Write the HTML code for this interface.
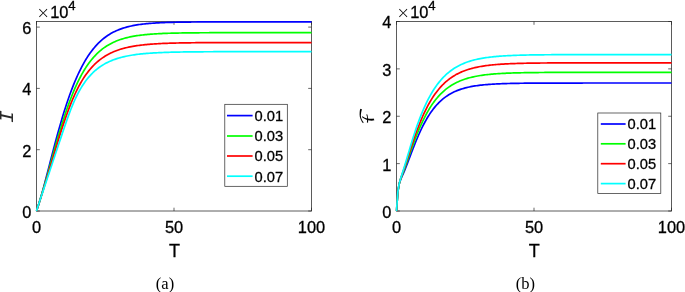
<!DOCTYPE html>
<html><head><meta charset="utf-8"><title>figure</title>
<style>
html,body{margin:0;padding:0;background:#fff;}
svg{display:block}
.t{font-family:"Liberation Sans",sans-serif;font-size:16.4px;fill:#000;stroke:#000;stroke-width:0.3px}
.g{font-family:"Liberation Sans",sans-serif;font-size:14.7px;fill:#000;stroke:#000;stroke-width:0.3px}
.x{font-family:"DejaVu Sans Light","DejaVu Sans",sans-serif;font-weight:200;font-size:16px;fill:#000}
.l{font-family:"Liberation Sans",sans-serif;font-size:18px;fill:#000;stroke:#000;stroke-width:0.3px}
.c{font-family:"Liberation Serif",serif;font-size:16.5px;fill:#000}
.m{font-family:"Liberation Serif",serif;font-style:italic;font-size:20px;fill:#000}
</style></head><body>
<svg width="685" height="292" viewBox="0 0 685 292">
<rect width="685" height="292" fill="#fff"/>
<rect x="36.5" y="21.5" width="275.00" height="189.50" fill="none" stroke="#262626" stroke-width="0.75"/>
<path d="M36.50,211.0 v-3.3 M36.50,21.5 v3.3" stroke="#262626" stroke-width="0.7" fill="none"/>
<path d="M174.00,211.0 v-3.3 M174.00,21.5 v3.3" stroke="#262626" stroke-width="0.7" fill="none"/>
<path d="M311.50,211.0 v-3.3 M311.50,21.5 v3.3" stroke="#262626" stroke-width="0.7" fill="none"/>
<path d="M36.5,211.00 h3.3 M311.5,211.00 h-3.3" stroke="#262626" stroke-width="0.7" fill="none"/>
<path d="M36.5,149.70 h3.3 M311.5,149.70 h-3.3" stroke="#262626" stroke-width="0.7" fill="none"/>
<path d="M36.5,88.40 h3.3 M311.5,88.40 h-3.3" stroke="#262626" stroke-width="0.7" fill="none"/>
<path d="M36.5,27.10 h3.3 M311.5,27.10 h-3.3" stroke="#262626" stroke-width="0.7" fill="none"/>
<clipPath id="cl"><rect x="35.4" y="20.4" width="276.6" height="191.6"/></clipPath><g clip-path="url(#cl)" fill="none" stroke-width="1.7" stroke-linejoin="round">
<path d="M36.50,211.00 L37.88,206.96 L39.25,202.60 L40.62,197.98 L42.00,193.14 L43.38,188.13 L44.75,182.99 L46.12,177.76 L47.50,172.46 L48.88,167.13 L50.25,161.80 L51.62,156.48 L53.00,151.20 L54.38,145.98 L55.75,140.83 L57.12,135.77 L58.50,130.80 L59.88,125.95 L61.25,121.21 L62.62,116.60 L64.00,112.11 L65.38,107.77 L66.75,103.56 L68.12,99.49 L69.50,95.56 L70.88,91.78 L72.25,88.15 L73.62,84.65 L75.00,81.30 L76.38,78.08 L77.75,75.01 L79.12,72.07 L80.50,69.26 L81.88,66.58 L83.25,64.03 L84.62,61.60 L86.00,59.29 L87.38,57.09 L88.75,55.01 L90.12,53.03 L91.50,51.16 L92.88,49.38 L94.25,47.70 L95.62,46.11 L97.00,44.61 L98.38,43.19 L99.75,41.85 L101.12,40.59 L102.50,39.40 L103.88,38.28 L105.25,37.23 L106.62,36.23 L108.00,35.30 L109.38,34.42 L110.75,33.60 L112.12,32.83 L113.50,32.10 L114.88,31.42 L116.25,30.78 L117.62,30.18 L119.00,29.62 L120.38,29.10 L121.75,28.61 L123.12,28.15 L124.50,27.72 L125.88,27.32 L127.25,26.94 L128.62,26.59 L130.00,26.27 L131.38,25.96 L132.75,25.67 L134.12,25.41 L135.50,25.16 L136.88,24.93 L138.25,24.71 L139.62,24.51 L141.00,24.33 L142.38,24.15 L143.75,23.99 L145.12,23.84 L146.50,23.70 L147.88,23.57 L149.25,23.44 L150.62,23.33 L152.00,23.23 L153.38,23.13 L154.75,23.04 L156.12,22.95 L157.50,22.87 L158.88,22.80 L160.25,22.73 L161.62,22.67 L163.00,22.61 L164.38,22.56 L165.75,22.51 L167.12,22.46 L168.50,22.41 L169.88,22.37 L171.25,22.34 L172.62,22.30 L174.00,22.27 L175.38,22.24 L176.75,22.21 L178.12,22.19 L179.50,22.16 L180.88,22.14 L182.25,22.12 L183.62,22.10 L185.00,22.08 L186.38,22.07 L187.75,22.05 L189.12,22.04 L190.50,22.03 L191.88,22.01 L193.25,22.00 L194.62,21.99 L196.00,21.98 L197.38,21.97 L198.75,21.96 L200.12,21.96 L201.50,21.95 L202.88,21.94 L204.25,21.94 L205.62,21.93 L207.00,21.93 L208.38,21.92 L209.75,21.92 L211.12,21.91 L212.50,21.91 L213.88,21.91 L215.25,21.90 L216.62,21.90 L218.00,21.90 L219.38,21.89 L220.75,21.89 L222.12,21.89 L223.50,21.89 L224.88,21.89 L226.25,21.88 L227.62,21.88 L229.00,21.88 L230.38,21.88 L231.75,21.88 L233.12,21.88 L234.50,21.88 L235.88,21.88 L237.25,21.87 L238.62,21.87 L240.00,21.87 L241.38,21.87 L242.75,21.87 L244.12,21.87 L245.50,21.87 L246.88,21.87 L248.25,21.87 L249.62,21.87 L251.00,21.87 L252.38,21.87 L253.75,21.87 L255.12,21.87 L256.50,21.87 L257.88,21.87 L259.25,21.87 L260.62,21.87 L262.00,21.87 L263.38,21.87 L264.75,21.87 L266.12,21.86 L267.50,21.86 L268.88,21.86 L270.25,21.86 L271.62,21.86 L273.00,21.86 L274.38,21.86 L275.75,21.86 L277.12,21.86 L278.50,21.86 L279.88,21.86 L281.25,21.86 L282.62,21.86 L284.00,21.86 L285.38,21.86 L286.75,21.86 L288.12,21.86 L289.50,21.86 L290.88,21.86 L292.25,21.86 L293.62,21.86 L295.00,21.86 L296.38,21.86 L297.75,21.86 L299.12,21.86 L300.50,21.86 L301.88,21.86 L303.25,21.86 L304.62,21.86 L306.00,21.86 L307.38,21.86 L308.75,21.86 L310.12,21.86 L311.50,21.86" stroke="#0000ff"/>
<path d="M36.50,211.00 L37.88,206.85 L39.25,202.54 L40.62,198.10 L42.00,193.53 L43.38,188.86 L44.75,184.10 L46.12,179.27 L47.50,174.39 L48.88,169.47 L50.25,164.54 L51.62,159.61 L53.00,154.69 L54.38,149.81 L55.75,144.98 L57.12,140.21 L58.50,135.52 L59.88,130.91 L61.25,126.41 L62.62,122.01 L64.00,117.72 L65.38,113.56 L66.75,109.53 L68.12,105.62 L69.50,101.86 L70.88,98.23 L72.25,94.75 L73.62,91.40 L75.00,88.20 L76.38,85.13 L77.75,82.20 L79.12,79.41 L80.50,76.74 L81.88,74.21 L83.25,71.80 L84.62,69.51 L86.00,67.34 L87.38,65.29 L88.75,63.34 L90.12,61.50 L91.50,59.76 L92.88,58.11 L94.25,56.56 L95.62,55.09 L97.00,53.71 L98.38,52.41 L99.75,51.18 L101.12,50.03 L102.50,48.94 L103.88,47.92 L105.25,46.95 L106.62,46.05 L108.00,45.20 L109.38,44.40 L110.75,43.65 L112.12,42.95 L113.50,42.29 L114.88,41.67 L116.25,41.09 L117.62,40.54 L119.00,40.03 L120.38,39.56 L121.75,39.11 L123.12,38.69 L124.50,38.29 L125.88,37.92 L127.25,37.58 L128.62,37.26 L130.00,36.95 L131.38,36.67 L132.75,36.41 L134.12,36.16 L135.50,35.93 L136.88,35.71 L138.25,35.51 L139.62,35.32 L141.00,35.14 L142.38,34.97 L143.75,34.82 L145.12,34.67 L146.50,34.54 L147.88,34.41 L149.25,34.29 L150.62,34.18 L152.00,34.08 L153.38,33.99 L154.75,33.90 L156.12,33.81 L157.50,33.73 L158.88,33.66 L160.25,33.59 L161.62,33.53 L163.00,33.47 L164.38,33.41 L165.75,33.36 L167.12,33.31 L168.50,33.27 L169.88,33.23 L171.25,33.19 L172.62,33.15 L174.00,33.12 L175.38,33.08 L176.75,33.05 L178.12,33.03 L179.50,33.00 L180.88,32.98 L182.25,32.95 L183.62,32.93 L185.00,32.91 L186.38,32.90 L187.75,32.88 L189.12,32.86 L190.50,32.85 L191.88,32.83 L193.25,32.82 L194.62,32.81 L196.00,32.80 L197.38,32.79 L198.75,32.78 L200.12,32.77 L201.50,32.76 L202.88,32.75 L204.25,32.75 L205.62,32.74 L207.00,32.73 L208.38,32.73 L209.75,32.72 L211.12,32.72 L212.50,32.71 L213.88,32.71 L215.25,32.70 L216.62,32.70 L218.00,32.70 L219.38,32.69 L220.75,32.69 L222.12,32.69 L223.50,32.68 L224.88,32.68 L226.25,32.68 L227.62,32.68 L229.00,32.67 L230.38,32.67 L231.75,32.67 L233.12,32.67 L234.50,32.67 L235.88,32.67 L237.25,32.67 L238.62,32.66 L240.00,32.66 L241.38,32.66 L242.75,32.66 L244.12,32.66 L245.50,32.66 L246.88,32.66 L248.25,32.66 L249.62,32.66 L251.00,32.66 L252.38,32.66 L253.75,32.66 L255.12,32.65 L256.50,32.65 L257.88,32.65 L259.25,32.65 L260.62,32.65 L262.00,32.65 L263.38,32.65 L264.75,32.65 L266.12,32.65 L267.50,32.65 L268.88,32.65 L270.25,32.65 L271.62,32.65 L273.00,32.65 L274.38,32.65 L275.75,32.65 L277.12,32.65 L278.50,32.65 L279.88,32.65 L281.25,32.65 L282.62,32.65 L284.00,32.65 L285.38,32.65 L286.75,32.65 L288.12,32.65 L289.50,32.65 L290.88,32.65 L292.25,32.65 L293.62,32.65 L295.00,32.65 L296.38,32.65 L297.75,32.65 L299.12,32.65 L300.50,32.65 L301.88,32.65 L303.25,32.65 L304.62,32.65 L306.00,32.65 L307.38,32.65 L308.75,32.65 L310.12,32.65 L311.50,32.65" stroke="#00ff00"/>
<path d="M36.50,211.00 L37.88,206.82 L39.25,202.57 L40.62,198.26 L42.00,193.90 L43.38,189.49 L44.75,185.02 L46.12,180.52 L47.50,175.98 L48.88,171.41 L50.25,166.83 L51.62,162.23 L53.00,157.63 L54.38,153.05 L55.75,148.49 L57.12,143.97 L58.50,139.50 L59.88,135.09 L61.25,130.76 L62.62,126.53 L64.00,122.39 L65.38,118.37 L66.75,114.48 L68.12,110.71 L69.50,107.09 L70.88,103.60 L72.25,100.26 L73.62,97.07 L75.00,94.02 L76.38,91.12 L77.75,88.36 L79.12,85.73 L80.50,83.25 L81.88,80.89 L83.25,78.66 L84.62,76.55 L86.00,74.55 L87.38,72.67 L88.75,70.89 L90.12,69.21 L91.50,67.63 L92.88,66.14 L94.25,64.73 L95.62,63.40 L97.00,62.15 L98.38,60.98 L99.75,59.87 L101.12,58.83 L102.50,57.84 L103.88,56.92 L105.25,56.05 L106.62,55.23 L108.00,54.46 L109.38,53.74 L110.75,53.06 L112.12,52.42 L113.50,51.82 L114.88,51.25 L116.25,50.72 L117.62,50.22 L119.00,49.75 L120.38,49.31 L121.75,48.89 L123.12,48.50 L124.50,48.13 L125.88,47.79 L127.25,47.47 L128.62,47.16 L130.00,46.88 L131.38,46.61 L132.75,46.36 L134.12,46.12 L135.50,45.90 L136.88,45.69 L138.25,45.49 L139.62,45.31 L141.00,45.14 L142.38,44.98 L143.75,44.82 L145.12,44.68 L146.50,44.55 L147.88,44.42 L149.25,44.30 L150.62,44.19 L152.00,44.09 L153.38,43.99 L154.75,43.90 L156.12,43.82 L157.50,43.74 L158.88,43.66 L160.25,43.59 L161.62,43.52 L163.00,43.46 L164.38,43.40 L165.75,43.35 L167.12,43.30 L168.50,43.25 L169.88,43.20 L171.25,43.16 L172.62,43.12 L174.00,43.08 L175.38,43.05 L176.75,43.02 L178.12,42.99 L179.50,42.96 L180.88,42.93 L182.25,42.90 L183.62,42.88 L185.00,42.86 L186.38,42.84 L187.75,42.82 L189.12,42.80 L190.50,42.78 L191.88,42.77 L193.25,42.75 L194.62,42.74 L196.00,42.72 L197.38,42.71 L198.75,42.70 L200.12,42.69 L201.50,42.68 L202.88,42.67 L204.25,42.66 L205.62,42.65 L207.00,42.64 L208.38,42.64 L209.75,42.63 L211.12,42.62 L212.50,42.62 L213.88,42.61 L215.25,42.61 L216.62,42.60 L218.00,42.60 L219.38,42.59 L220.75,42.59 L222.12,42.59 L223.50,42.58 L224.88,42.58 L226.25,42.58 L227.62,42.57 L229.00,42.57 L230.38,42.57 L231.75,42.56 L233.12,42.56 L234.50,42.56 L235.88,42.56 L237.25,42.56 L238.62,42.55 L240.00,42.55 L241.38,42.55 L242.75,42.55 L244.12,42.55 L245.50,42.55 L246.88,42.55 L248.25,42.55 L249.62,42.54 L251.00,42.54 L252.38,42.54 L253.75,42.54 L255.12,42.54 L256.50,42.54 L257.88,42.54 L259.25,42.54 L260.62,42.54 L262.00,42.54 L263.38,42.54 L264.75,42.54 L266.12,42.54 L267.50,42.54 L268.88,42.54 L270.25,42.53 L271.62,42.53 L273.00,42.53 L274.38,42.53 L275.75,42.53 L277.12,42.53 L278.50,42.53 L279.88,42.53 L281.25,42.53 L282.62,42.53 L284.00,42.53 L285.38,42.53 L286.75,42.53 L288.12,42.53 L289.50,42.53 L290.88,42.53 L292.25,42.53 L293.62,42.53 L295.00,42.53 L296.38,42.53 L297.75,42.53 L299.12,42.53 L300.50,42.53 L301.88,42.53 L303.25,42.53 L304.62,42.53 L306.00,42.53 L307.38,42.53 L308.75,42.53 L310.12,42.53 L311.50,42.53" stroke="#ff0000"/>
<path d="M36.50,211.00 L37.88,206.58 L39.25,202.46 L40.62,198.34 L42.00,194.22 L43.38,190.11 L44.75,185.99 L46.12,181.87 L47.50,177.75 L48.88,173.64 L50.25,169.52 L51.62,165.40 L53.00,161.28 L54.38,157.17 L55.75,153.05 L57.12,148.94 L58.50,144.83 L59.88,140.72 L61.25,136.63 L62.62,132.55 L64.00,128.49 L65.38,124.47 L66.75,120.52 L68.12,116.65 L69.50,112.90 L70.88,109.30 L72.25,105.85 L73.62,102.59 L75.00,99.50 L76.38,96.59 L77.75,93.85 L79.12,91.27 L80.50,88.85 L81.88,86.58 L83.25,84.44 L84.62,82.44 L86.00,80.56 L87.38,78.79 L88.75,77.13 L90.12,75.57 L91.50,74.11 L92.88,72.73 L94.25,71.45 L95.62,70.23 L97.00,69.10 L98.38,68.03 L99.75,67.03 L101.12,66.09 L102.50,65.21 L103.88,64.38 L105.25,63.60 L106.62,62.87 L108.00,62.18 L109.38,61.54 L110.75,60.93 L112.12,60.36 L113.50,59.83 L114.88,59.33 L116.25,58.86 L117.62,58.42 L119.00,58.00 L120.38,57.61 L121.75,57.25 L123.12,56.91 L124.50,56.59 L125.88,56.28 L127.25,56.00 L128.62,55.73 L130.00,55.48 L131.38,55.25 L132.75,55.03 L134.12,54.82 L135.50,54.63 L136.88,54.44 L138.25,54.27 L139.62,54.11 L141.00,53.96 L142.38,53.82 L143.75,53.69 L145.12,53.56 L146.50,53.44 L147.88,53.33 L149.25,53.23 L150.62,53.13 L152.00,53.04 L153.38,52.96 L154.75,52.88 L156.12,52.80 L157.50,52.73 L158.88,52.66 L160.25,52.60 L161.62,52.54 L163.00,52.49 L164.38,52.44 L165.75,52.39 L167.12,52.34 L168.50,52.30 L169.88,52.26 L171.25,52.22 L172.62,52.19 L174.00,52.15 L175.38,52.12 L176.75,52.09 L178.12,52.06 L179.50,52.04 L180.88,52.01 L182.25,51.99 L183.62,51.97 L185.00,51.95 L186.38,51.93 L187.75,51.91 L189.12,51.90 L190.50,51.88 L191.88,51.87 L193.25,51.85 L194.62,51.84 L196.00,51.83 L197.38,51.82 L198.75,51.81 L200.12,51.80 L201.50,51.79 L202.88,51.78 L204.25,51.77 L205.62,51.76 L207.00,51.75 L208.38,51.75 L209.75,51.74 L211.12,51.73 L212.50,51.73 L213.88,51.72 L215.25,51.72 L216.62,51.71 L218.00,51.71 L219.38,51.71 L220.75,51.70 L222.12,51.70 L223.50,51.69 L224.88,51.69 L226.25,51.69 L227.62,51.69 L229.00,51.68 L230.38,51.68 L231.75,51.68 L233.12,51.68 L234.50,51.67 L235.88,51.67 L237.25,51.67 L238.62,51.67 L240.00,51.67 L241.38,51.66 L242.75,51.66 L244.12,51.66 L245.50,51.66 L246.88,51.66 L248.25,51.66 L249.62,51.66 L251.00,51.66 L252.38,51.66 L253.75,51.65 L255.12,51.65 L256.50,51.65 L257.88,51.65 L259.25,51.65 L260.62,51.65 L262.00,51.65 L263.38,51.65 L264.75,51.65 L266.12,51.65 L267.50,51.65 L268.88,51.65 L270.25,51.65 L271.62,51.65 L273.00,51.65 L274.38,51.65 L275.75,51.65 L277.12,51.65 L278.50,51.65 L279.88,51.65 L281.25,51.65 L282.62,51.65 L284.00,51.65 L285.38,51.64 L286.75,51.64 L288.12,51.64 L289.50,51.64 L290.88,51.64 L292.25,51.64 L293.62,51.64 L295.00,51.64 L296.38,51.64 L297.75,51.64 L299.12,51.64 L300.50,51.64 L301.88,51.64 L303.25,51.64 L304.62,51.64 L306.00,51.64 L307.38,51.64 L308.75,51.64 L310.12,51.64 L311.50,51.64" stroke="#00ffff"/>
</g>
<text x="31.3" y="217.9" text-anchor="end" class="t">0</text>
<text x="31.3" y="156.6" text-anchor="end" class="t">2</text>
<text x="31.3" y="95.3" text-anchor="end" class="t">4</text>
<text x="31.3" y="34.0" text-anchor="end" class="t">6</text>
<text x="36.5" y="233.3" text-anchor="middle" class="t">0</text>
<text x="174.0" y="233.3" text-anchor="middle" class="t">50</text>
<text x="311.5" y="233.3" text-anchor="middle" class="t">100</text>
<text x="174.6" y="257.2" text-anchor="middle" class="l">T</text>
<text x="36.6" y="18.4" class="x">×</text><text x="50.2" y="18.3" class="t">10</text><text x="68.2" y="9.9" class="t" style="font-size:13.2px">4</text>
<text transform="translate(13.1,116.3) rotate(-90) scale(1.15,1)" text-anchor="middle" class="m" style="font-family:'DejaVu Sans Mono',monospace;font-style:oblique;font-size:18.3px;fill:#2a2a2a">I</text>
<rect x="224.8" y="104.3" width="62.5" height="82" fill="#fff" stroke="#262626" stroke-width="0.7"/>
<line x1="227.0" y1="115.6" x2="252.6" y2="115.6" stroke="#0000ff" stroke-width="1.7"/>
<text x="254.6" y="120.9" class="g">0.01</text>
<line x1="227.0" y1="136.0" x2="252.6" y2="136.0" stroke="#00ff00" stroke-width="1.7"/>
<text x="254.6" y="141.3" class="g">0.03</text>
<line x1="227.0" y1="156.0" x2="252.6" y2="156.0" stroke="#ff0000" stroke-width="1.7"/>
<text x="254.6" y="161.3" class="g">0.05</text>
<line x1="227.0" y1="176.2" x2="252.6" y2="176.2" stroke="#00ffff" stroke-width="1.7"/>
<text x="254.6" y="181.5" class="g">0.07</text>
<text x="165" y="288.5" text-anchor="middle" class="c">(a)</text>
<rect x="396.5" y="21.5" width="275.00" height="189.50" fill="none" stroke="#262626" stroke-width="0.75"/>
<path d="M396.50,211.0 v-3.3 M396.50,21.5 v3.3" stroke="#262626" stroke-width="0.7" fill="none"/>
<path d="M534.00,211.0 v-3.3 M534.00,21.5 v3.3" stroke="#262626" stroke-width="0.7" fill="none"/>
<path d="M671.50,211.0 v-3.3 M671.50,21.5 v3.3" stroke="#262626" stroke-width="0.7" fill="none"/>
<path d="M396.5,211.00 h3.3 M671.5,211.00 h-3.3" stroke="#262626" stroke-width="0.7" fill="none"/>
<path d="M396.5,163.62 h3.3 M671.5,163.62 h-3.3" stroke="#262626" stroke-width="0.7" fill="none"/>
<path d="M396.5,116.25 h3.3 M671.5,116.25 h-3.3" stroke="#262626" stroke-width="0.7" fill="none"/>
<path d="M396.5,68.88 h3.3 M671.5,68.88 h-3.3" stroke="#262626" stroke-width="0.7" fill="none"/>
<path d="M396.5,21.50 h3.3 M671.5,21.50 h-3.3" stroke="#262626" stroke-width="0.7" fill="none"/>
<clipPath id="cr"><rect x="395.4" y="20.4" width="276.6" height="191.6"/></clipPath><g clip-path="url(#cr)" fill="none" stroke-width="1.7" stroke-linejoin="round">
<path d="M396.50,211.00 L397.88,191.39 L399.25,183.72 L400.62,179.63 L402.00,176.44 L403.38,173.32 L404.75,170.06 L406.12,166.65 L407.50,163.12 L408.88,159.52 L410.25,155.89 L411.62,152.27 L413.00,148.70 L414.38,145.19 L415.75,141.78 L417.12,138.47 L418.50,135.27 L419.88,132.20 L421.25,129.25 L422.62,126.44 L424.00,123.76 L425.38,121.22 L426.75,118.80 L428.12,116.52 L429.50,114.36 L430.88,112.32 L432.25,110.40 L433.62,108.59 L435.00,106.89 L436.38,105.29 L437.75,103.80 L439.12,102.39 L440.50,101.08 L441.88,99.85 L443.25,98.70 L444.62,97.62 L446.00,96.62 L447.38,95.68 L448.75,94.80 L450.12,93.98 L451.50,93.22 L452.88,92.51 L454.25,91.85 L455.62,91.23 L457.00,90.65 L458.38,90.12 L459.75,89.62 L461.12,89.15 L462.50,88.72 L463.88,88.32 L465.25,87.94 L466.62,87.60 L468.00,87.27 L469.38,86.97 L470.75,86.69 L472.12,86.43 L473.50,86.19 L474.88,85.96 L476.25,85.75 L477.62,85.56 L479.00,85.38 L480.38,85.21 L481.75,85.05 L483.12,84.91 L484.50,84.77 L485.88,84.65 L487.25,84.53 L488.62,84.42 L490.00,84.32 L491.38,84.23 L492.75,84.14 L494.12,84.06 L495.50,83.99 L496.88,83.92 L498.25,83.86 L499.62,83.80 L501.00,83.74 L502.38,83.69 L503.75,83.64 L505.12,83.60 L506.50,83.55 L507.88,83.52 L509.25,83.48 L510.62,83.45 L512.00,83.42 L513.38,83.39 L514.75,83.36 L516.12,83.34 L517.50,83.31 L518.88,83.29 L520.25,83.27 L521.62,83.25 L523.00,83.24 L524.38,83.22 L525.75,83.21 L527.12,83.19 L528.50,83.18 L529.88,83.17 L531.25,83.16 L532.62,83.15 L534.00,83.14 L535.38,83.13 L536.75,83.12 L538.12,83.11 L539.50,83.11 L540.88,83.10 L542.25,83.09 L543.62,83.09 L545.00,83.08 L546.38,83.08 L547.75,83.07 L549.12,83.07 L550.50,83.07 L551.88,83.06 L553.25,83.06 L554.62,83.06 L556.00,83.05 L557.38,83.05 L558.75,83.05 L560.12,83.05 L561.50,83.04 L562.88,83.04 L564.25,83.04 L565.62,83.04 L567.00,83.04 L568.38,83.04 L569.75,83.03 L571.12,83.03 L572.50,83.03 L573.88,83.03 L575.25,83.03 L576.62,83.03 L578.00,83.03 L579.38,83.03 L580.75,83.03 L582.12,83.03 L583.50,83.02 L584.88,83.02 L586.25,83.02 L587.62,83.02 L589.00,83.02 L590.38,83.02 L591.75,83.02 L593.12,83.02 L594.50,83.02 L595.88,83.02 L597.25,83.02 L598.62,83.02 L600.00,83.02 L601.38,83.02 L602.75,83.02 L604.12,83.02 L605.50,83.02 L606.88,83.02 L608.25,83.02 L609.62,83.02 L611.00,83.02 L612.38,83.02 L613.75,83.02 L615.12,83.02 L616.50,83.02 L617.88,83.02 L619.25,83.02 L620.62,83.02 L622.00,83.02 L623.38,83.02 L624.75,83.02 L626.12,83.02 L627.50,83.02 L628.88,83.02 L630.25,83.02 L631.62,83.02 L633.00,83.02 L634.38,83.02 L635.75,83.02 L637.12,83.02 L638.50,83.02 L639.88,83.02 L641.25,83.02 L642.62,83.02 L644.00,83.02 L645.38,83.02 L646.75,83.02 L648.12,83.02 L649.50,83.02 L650.88,83.02 L652.25,83.02 L653.62,83.02 L655.00,83.02 L656.38,83.02 L657.75,83.02 L659.12,83.02 L660.50,83.02 L661.88,83.02 L663.25,83.02 L664.62,83.02 L666.00,83.02 L667.38,83.02 L668.75,83.02 L670.12,83.02 L671.50,83.02" stroke="#0000ff"/>
<path d="M396.50,211.00 L397.88,191.68 L399.25,183.65 L400.62,179.10 L402.00,175.44 L403.38,171.86 L404.75,168.17 L406.12,164.36 L407.50,160.45 L408.88,156.51 L410.25,152.57 L411.62,148.68 L413.00,144.85 L414.38,141.12 L415.75,137.50 L417.12,134.00 L418.50,130.63 L419.88,127.39 L421.25,124.29 L422.62,121.33 L424.00,118.51 L425.38,115.82 L426.75,113.27 L428.12,110.85 L429.50,108.55 L430.88,106.38 L432.25,104.32 L433.62,102.38 L435.00,100.54 L436.38,98.81 L437.75,97.18 L439.12,95.64 L440.50,94.19 L441.88,92.83 L443.25,91.54 L444.62,90.34 L446.00,89.20 L447.38,88.14 L448.75,87.14 L450.12,86.20 L451.50,85.31 L452.88,84.49 L454.25,83.71 L455.62,82.98 L457.00,82.30 L458.38,81.66 L459.75,81.06 L461.12,80.50 L462.50,79.97 L463.88,79.48 L465.25,79.02 L466.62,78.59 L468.00,78.18 L469.38,77.80 L470.75,77.45 L472.12,77.12 L473.50,76.81 L474.88,76.52 L476.25,76.24 L477.62,75.99 L479.00,75.75 L480.38,75.53 L481.75,75.32 L483.12,75.13 L484.50,74.94 L485.88,74.77 L487.25,74.62 L488.62,74.47 L490.00,74.33 L491.38,74.20 L492.75,74.08 L494.12,73.96 L495.50,73.86 L496.88,73.76 L498.25,73.66 L499.62,73.58 L501.00,73.50 L502.38,73.42 L503.75,73.35 L505.12,73.28 L506.50,73.22 L507.88,73.16 L509.25,73.11 L510.62,73.06 L512.00,73.01 L513.38,72.97 L514.75,72.93 L516.12,72.89 L517.50,72.85 L518.88,72.82 L520.25,72.79 L521.62,72.76 L523.00,72.73 L524.38,72.70 L525.75,72.68 L527.12,72.66 L528.50,72.64 L529.88,72.62 L531.25,72.60 L532.62,72.58 L534.00,72.57 L535.38,72.55 L536.75,72.54 L538.12,72.53 L539.50,72.51 L540.88,72.50 L542.25,72.49 L543.62,72.48 L545.00,72.47 L546.38,72.46 L547.75,72.46 L549.12,72.45 L550.50,72.44 L551.88,72.43 L553.25,72.43 L554.62,72.42 L556.00,72.42 L557.38,72.41 L558.75,72.41 L560.12,72.40 L561.50,72.40 L562.88,72.39 L564.25,72.39 L565.62,72.39 L567.00,72.38 L568.38,72.38 L569.75,72.38 L571.12,72.38 L572.50,72.37 L573.88,72.37 L575.25,72.37 L576.62,72.37 L578.00,72.37 L579.38,72.36 L580.75,72.36 L582.12,72.36 L583.50,72.36 L584.88,72.36 L586.25,72.36 L587.62,72.36 L589.00,72.36 L590.38,72.35 L591.75,72.35 L593.12,72.35 L594.50,72.35 L595.88,72.35 L597.25,72.35 L598.62,72.35 L600.00,72.35 L601.38,72.35 L602.75,72.35 L604.12,72.35 L605.50,72.35 L606.88,72.35 L608.25,72.35 L609.62,72.35 L611.00,72.35 L612.38,72.35 L613.75,72.34 L615.12,72.34 L616.50,72.34 L617.88,72.34 L619.25,72.34 L620.62,72.34 L622.00,72.34 L623.38,72.34 L624.75,72.34 L626.12,72.34 L627.50,72.34 L628.88,72.34 L630.25,72.34 L631.62,72.34 L633.00,72.34 L634.38,72.34 L635.75,72.34 L637.12,72.34 L638.50,72.34 L639.88,72.34 L641.25,72.34 L642.62,72.34 L644.00,72.34 L645.38,72.34 L646.75,72.34 L648.12,72.34 L649.50,72.34 L650.88,72.34 L652.25,72.34 L653.62,72.34 L655.00,72.34 L656.38,72.34 L657.75,72.34 L659.12,72.34 L660.50,72.34 L661.88,72.34 L663.25,72.34 L664.62,72.34 L666.00,72.34 L667.38,72.34 L668.75,72.34 L670.12,72.34 L671.50,72.34" stroke="#00ff00"/>
<path d="M396.50,211.00 L397.88,191.78 L399.25,183.55 L400.62,178.72 L402.00,174.76 L403.38,170.87 L404.75,166.87 L406.12,162.73 L407.50,158.51 L408.88,154.26 L410.25,150.02 L411.62,145.83 L413.00,141.72 L414.38,137.71 L415.75,133.83 L417.12,130.07 L418.50,126.45 L419.88,122.98 L421.25,119.66 L422.62,116.48 L424.00,113.44 L425.38,110.56 L426.75,107.81 L428.12,105.20 L429.50,102.73 L430.88,100.38 L432.25,98.16 L433.62,96.06 L435.00,94.07 L436.38,92.19 L437.75,90.42 L439.12,88.75 L440.50,87.17 L441.88,85.68 L443.25,84.28 L444.62,82.96 L446.00,81.72 L447.38,80.55 L448.75,79.45 L450.12,78.42 L451.50,77.45 L452.88,76.54 L454.25,75.68 L455.62,74.87 L457.00,74.12 L458.38,73.41 L459.75,72.74 L461.12,72.12 L462.50,71.53 L463.88,70.98 L465.25,70.46 L466.62,69.98 L468.00,69.53 L469.38,69.10 L470.75,68.70 L472.12,68.33 L473.50,67.98 L474.88,67.65 L476.25,67.34 L477.62,67.05 L479.00,66.78 L480.38,66.53 L481.75,66.29 L483.12,66.07 L484.50,65.86 L485.88,65.67 L487.25,65.49 L488.62,65.32 L490.00,65.16 L491.38,65.01 L492.75,64.87 L494.12,64.74 L495.50,64.61 L496.88,64.50 L498.25,64.39 L499.62,64.29 L501.00,64.20 L502.38,64.11 L503.75,64.03 L505.12,63.95 L506.50,63.88 L507.88,63.81 L509.25,63.75 L510.62,63.69 L512.00,63.63 L513.38,63.58 L514.75,63.53 L516.12,63.49 L517.50,63.44 L518.88,63.40 L520.25,63.37 L521.62,63.33 L523.00,63.30 L524.38,63.27 L525.75,63.24 L527.12,63.21 L528.50,63.19 L529.88,63.17 L531.25,63.14 L532.62,63.12 L534.00,63.10 L535.38,63.09 L536.75,63.07 L538.12,63.05 L539.50,63.04 L540.88,63.02 L542.25,63.01 L543.62,63.00 L545.00,62.99 L546.38,62.98 L547.75,62.97 L549.12,62.96 L550.50,62.95 L551.88,62.94 L553.25,62.93 L554.62,62.93 L556.00,62.92 L557.38,62.92 L558.75,62.91 L560.12,62.90 L561.50,62.90 L562.88,62.89 L564.25,62.89 L565.62,62.89 L567.00,62.88 L568.38,62.88 L569.75,62.87 L571.12,62.87 L572.50,62.87 L573.88,62.87 L575.25,62.86 L576.62,62.86 L578.00,62.86 L579.38,62.86 L580.75,62.85 L582.12,62.85 L583.50,62.85 L584.88,62.85 L586.25,62.85 L587.62,62.85 L589.00,62.84 L590.38,62.84 L591.75,62.84 L593.12,62.84 L594.50,62.84 L595.88,62.84 L597.25,62.84 L598.62,62.84 L600.00,62.84 L601.38,62.84 L602.75,62.84 L604.12,62.83 L605.50,62.83 L606.88,62.83 L608.25,62.83 L609.62,62.83 L611.00,62.83 L612.38,62.83 L613.75,62.83 L615.12,62.83 L616.50,62.83 L617.88,62.83 L619.25,62.83 L620.62,62.83 L622.00,62.83 L623.38,62.83 L624.75,62.83 L626.12,62.83 L627.50,62.83 L628.88,62.83 L630.25,62.83 L631.62,62.83 L633.00,62.83 L634.38,62.83 L635.75,62.83 L637.12,62.83 L638.50,62.83 L639.88,62.83 L641.25,62.83 L642.62,62.83 L644.00,62.83 L645.38,62.83 L646.75,62.83 L648.12,62.83 L649.50,62.83 L650.88,62.83 L652.25,62.83 L653.62,62.83 L655.00,62.83 L656.38,62.83 L657.75,62.83 L659.12,62.83 L660.50,62.83 L661.88,62.83 L663.25,62.83 L664.62,62.83 L666.00,62.83 L667.38,62.83 L668.75,62.83 L670.12,62.83 L671.50,62.83" stroke="#ff0000"/>
<path d="M396.50,211.00 L397.88,191.56 L399.25,183.51 L400.62,178.60 L402.00,174.33 L403.38,170.03 L404.75,165.57 L406.12,160.98 L407.50,156.32 L408.88,151.66 L410.25,147.05 L411.62,142.51 L413.00,138.09 L414.38,133.79 L415.75,129.64 L417.12,125.65 L418.50,121.81 L419.88,118.14 L421.25,114.62 L422.62,111.27 L424.00,108.07 L425.38,105.03 L426.75,102.15 L428.12,99.40 L429.50,96.80 L430.88,94.34 L432.25,92.00 L433.62,89.80 L435.00,87.71 L436.38,85.73 L437.75,83.87 L439.12,82.11 L440.50,80.45 L441.88,78.89 L443.25,77.41 L444.62,76.02 L446.00,74.71 L447.38,73.48 L448.75,72.32 L450.12,71.23 L451.50,70.20 L452.88,69.24 L454.25,68.33 L455.62,67.48 L457.00,66.68 L458.38,65.93 L459.75,65.22 L461.12,64.56 L462.50,63.93 L463.88,63.35 L465.25,62.80 L466.62,62.28 L468.00,61.80 L469.38,61.35 L470.75,60.92 L472.12,60.52 L473.50,60.15 L474.88,59.80 L476.25,59.47 L477.62,59.16 L479.00,58.87 L480.38,58.60 L481.75,58.35 L483.12,58.11 L484.50,57.89 L485.88,57.68 L487.25,57.48 L488.62,57.30 L490.00,57.13 L491.38,56.97 L492.75,56.81 L494.12,56.67 L495.50,56.54 L496.88,56.42 L498.25,56.30 L499.62,56.19 L501.00,56.09 L502.38,55.99 L503.75,55.91 L505.12,55.82 L506.50,55.74 L507.88,55.67 L509.25,55.60 L510.62,55.54 L512.00,55.48 L513.38,55.42 L514.75,55.37 L516.12,55.32 L517.50,55.27 L518.88,55.23 L520.25,55.19 L521.62,55.15 L523.00,55.11 L524.38,55.08 L525.75,55.05 L527.12,55.02 L528.50,54.99 L529.88,54.97 L531.25,54.94 L532.62,54.92 L534.00,54.90 L535.38,54.88 L536.75,54.86 L538.12,54.84 L539.50,54.83 L540.88,54.81 L542.25,54.80 L543.62,54.79 L545.00,54.77 L546.38,54.76 L547.75,54.75 L549.12,54.74 L550.50,54.73 L551.88,54.72 L553.25,54.71 L554.62,54.71 L556.00,54.70 L557.38,54.69 L558.75,54.69 L560.12,54.68 L561.50,54.67 L562.88,54.67 L564.25,54.66 L565.62,54.66 L567.00,54.65 L568.38,54.65 L569.75,54.65 L571.12,54.64 L572.50,54.64 L573.88,54.64 L575.25,54.63 L576.62,54.63 L578.00,54.63 L579.38,54.63 L580.75,54.62 L582.12,54.62 L583.50,54.62 L584.88,54.62 L586.25,54.62 L587.62,54.61 L589.00,54.61 L590.38,54.61 L591.75,54.61 L593.12,54.61 L594.50,54.61 L595.88,54.61 L597.25,54.61 L598.62,54.61 L600.00,54.60 L601.38,54.60 L602.75,54.60 L604.12,54.60 L605.50,54.60 L606.88,54.60 L608.25,54.60 L609.62,54.60 L611.00,54.60 L612.38,54.60 L613.75,54.60 L615.12,54.60 L616.50,54.60 L617.88,54.60 L619.25,54.60 L620.62,54.60 L622.00,54.60 L623.38,54.60 L624.75,54.60 L626.12,54.59 L627.50,54.59 L628.88,54.59 L630.25,54.59 L631.62,54.59 L633.00,54.59 L634.38,54.59 L635.75,54.59 L637.12,54.59 L638.50,54.59 L639.88,54.59 L641.25,54.59 L642.62,54.59 L644.00,54.59 L645.38,54.59 L646.75,54.59 L648.12,54.59 L649.50,54.59 L650.88,54.59 L652.25,54.59 L653.62,54.59 L655.00,54.59 L656.38,54.59 L657.75,54.59 L659.12,54.59 L660.50,54.59 L661.88,54.59 L663.25,54.59 L664.62,54.59 L666.00,54.59 L667.38,54.59 L668.75,54.59 L670.12,54.59 L671.50,54.59" stroke="#00ffff"/>
</g>
<text x="391.4" y="217.9" text-anchor="end" class="t">0</text>
<text x="391.4" y="170.5" text-anchor="end" class="t">1</text>
<text x="391.4" y="123.2" text-anchor="end" class="t">2</text>
<text x="391.4" y="75.8" text-anchor="end" class="t">3</text>
<text x="391.4" y="28.4" text-anchor="end" class="t">4</text>
<text x="396.5" y="233.3" text-anchor="middle" class="t">0</text>
<text x="534.0" y="233.3" text-anchor="middle" class="t">50</text>
<text x="671.5" y="233.3" text-anchor="middle" class="t">100</text>
<text x="534.3" y="257.2" text-anchor="middle" class="l">T</text>
<text x="396.6" y="18.4" class="x">×</text><text x="410.2" y="18.3" class="t">10</text><text x="428.2" y="9.9" class="t" style="font-size:13.2px">4</text>
<text transform="translate(373.5,116) rotate(-90)" text-anchor="middle" class="m" style="font-family:'DejaVu Math TeX Gyre','DejaVu Sans',serif;font-style:normal;font-size:19px">ℱ</text>
<rect x="597.8" y="113" width="63" height="80.5" fill="#fff" stroke="#262626" stroke-width="0.7"/>
<line x1="600.8" y1="124" x2="625.6" y2="124" stroke="#0000ff" stroke-width="1.7"/>
<text x="627.5" y="129.3" class="g">0.01</text>
<line x1="600.8" y1="143.8" x2="625.6" y2="143.8" stroke="#00ff00" stroke-width="1.7"/>
<text x="627.5" y="149.1" class="g">0.03</text>
<line x1="600.8" y1="163.7" x2="625.6" y2="163.7" stroke="#ff0000" stroke-width="1.7"/>
<text x="627.5" y="169.0" class="g">0.05</text>
<line x1="600.8" y1="183.6" x2="625.6" y2="183.6" stroke="#00ffff" stroke-width="1.7"/>
<text x="627.5" y="188.9" class="g">0.07</text>
<text x="525.4" y="288.5" text-anchor="middle" class="c">(b)</text>
</svg></body></html>
